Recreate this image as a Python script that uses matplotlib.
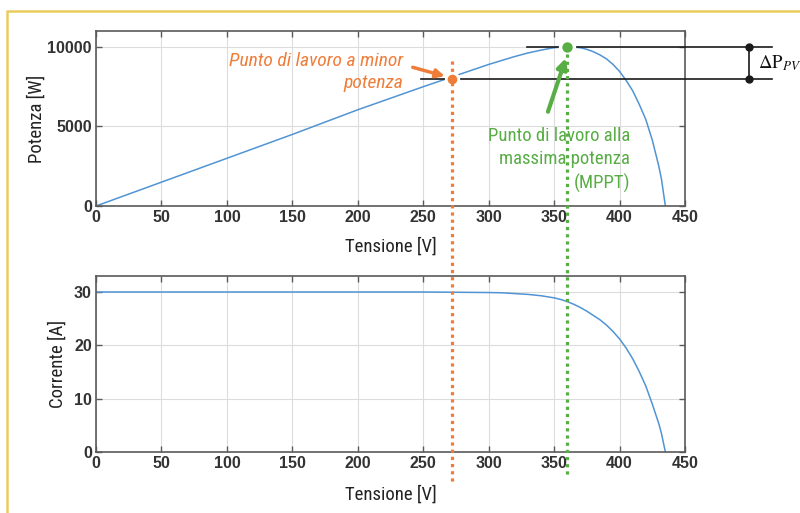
import matplotlib
matplotlib.use("Agg")
import matplotlib.pyplot as plt
from matplotlib import font_manager, transforms
from matplotlib.lines import Line2D

# ---------------- data ----------------
voltage_p = [0, 50, 100, 150, 200, 250, 300, 310, 320, 330, 340, 345, 350, 355,
             360, 365, 370, 375, 380, 385, 390, 395, 400, 405, 410, 415, 420,
             425, 430, 432, 435]
power = [0, 1500, 3000, 4500, 6050, 7500, 8900, 9150, 9400, 9620, 9800, 9880,
         9950, 9990, 10000, 9990, 9950, 9850, 9700, 9500, 9250, 8900, 8460,
         7900, 7250, 6400, 5450, 4150, 2500, 1700, 0]

voltage_i = [0, 50, 100, 150, 200, 250, 300, 310, 320, 330, 340, 345, 350, 355,
             360, 365, 370, 375, 380, 385, 390, 395, 400, 405, 410, 415, 420,
             425, 430, 432, 435]
current = [30.0, 30.0, 30.0, 30.0, 30.0, 30.0, 29.9, 29.85, 29.7, 29.55, 29.3,
           29.1, 28.9, 28.6, 28.2, 27.7, 27.1, 26.4, 25.6, 24.8, 23.8, 22.6,
           21.2, 19.5, 17.5, 15.1, 12.4, 9.0, 5.3, 3.5, 0.0]

x_ticks = [0, 50, 100, 150, 200, 250, 300, 350, 400, 450]
p_ticks = [0, 5000, 10000]
i_ticks = [0, 10, 20, 30]

v_mpp, p_mpp = 360, 10000      # maximum power point
v_low, p_low = 272, 8000       # lower power working point

label_low = "Punto di lavoro a minor\npotenza"
label_mpp = "Punto di lavoro alla\nmassima potenza\n(MPPT)"
label_dp = r"$\Delta\mathrm{P}_{PV}$"

# ---------------- style ----------------
names = {f.name for f in font_manager.fontManager.ttflist}
narrow = None
for cand in ["Liberation Sans Narrow", "Roboto Condensed", "Open Sans Condensed",
             "DejaVu Sans Condensed"]:
    if cand in names:
        narrow = cand
        break
if narrow is None:
    narrow = "DejaVu Sans"

BLUE = "#5094d4"
ORANGE = "#ef7d3a"
GREEN = "#58ad45"
TICKC = "#333333"
SPINE = "#5a5a5a"
GRID = "#dcdcdc"

fig = plt.figure(figsize=(8.0, 5.13), dpi=100)
ax1 = fig.add_axes([0.12, 0.5984, 0.73625, 0.3411])
ax2 = fig.add_axes([0.12, 0.1189, 0.73625, 0.3431])


def style(ax):
    ax.set_xlim(0, 450)
    ax.set_xticks(x_ticks)
    ax.grid(True, color=GRID, linewidth=0.8)
    ax.set_axisbelow(True)
    for s in ax.spines.values():
        s.set_color(SPINE)
        s.set_linewidth(1.2)
    ax.tick_params(direction="in", top=True, right=True, length=4, width=1,
                   color=SPINE, labelcolor=TICKC, pad=3)
    for lab in ax.get_xticklabels() + ax.get_yticklabels():
        lab.set_fontfamily("Liberation Sans")
        lab.set_fontsize(11.5)
        lab.set_fontweight("bold")


ax1.plot(voltage_p, power, color=BLUE, linewidth=1.1)
ax1.set_ylim(0, 11000)
ax1.set_yticks(p_ticks)
style(ax1)
ax1.set_xlabel("Tensione [V]", family=narrow, fontsize=13.5, color="#222222", labelpad=9)
ax1.set_ylabel("Potenza [W]", family=narrow, fontsize=13.5, color="#222222", labelpad=1)

ax2.plot(voltage_i, current, color=BLUE, linewidth=1.1)
ax2.set_ylim(0, 33)
ax2.set_yticks(i_ticks)
style(ax2)
ax2.set_xlabel("Tensione [V]", family=narrow, fontsize=13.5, color="#222222", labelpad=10)
ax2.set_ylabel("Corrente [A]", family=narrow, fontsize=13.5, color="#222222", labelpad=5)

# ---------------- annotations ----------------
# vertical dotted lines spanning both panels
blend = transforms.blended_transform_factory(ax1.transData, fig.transFigure)
fig.add_artist(Line2D([v_low, v_low], [1 - 61 / 513, 1 - 482 / 513], transform=blend,
                      color=ORANGE, linewidth=2.3, linestyle=(0, (1, 1.25)),
                      dash_capstyle="butt", zorder=5))
fig.add_artist(Line2D([v_mpp, v_mpp], [1 - 54 / 513, 1 - 478 / 513], transform=blend,
                      color=GREEN, linewidth=2.3, linestyle=(0, (1, 1.25)),
                      dash_capstyle="butt", zorder=5))

# horizontal reference lines
ax1.plot([329, 516.4], [p_mpp, p_mpp], color="#1a1a1a", linewidth=1.2,
         clip_on=False, zorder=6)
ax1.plot([248, 516.4], [p_low, p_low], color="#1a1a1a", linewidth=1.2,
         clip_on=False, zorder=6)
# bracket
ax1.plot([498.6, 498.6], [p_low, p_mpp], color="#1a1a1a", linewidth=1.2,
         marker="o", markersize=5, clip_on=False, zorder=7)
ax1.text(506.0, 8950, label_dp, fontsize=13.5, math_fontfamily="stix",
         ha="left", va="center", color="#111111", clip_on=False)

# working points
ax1.plot([v_low], [p_low], marker="o", markersize=9, color=ORANGE,
         markeredgecolor="white", markeredgewidth=2, clip_on=False, zorder=8)
ax1.plot([v_mpp], [p_mpp], marker="o", markersize=10, color=GREEN,
         markeredgecolor="white", markeredgewidth=2.5, clip_on=False, zorder=8)

# arrows
ax1.annotate("", xy=(266.5, 8160), xytext=(242, 8720),
             arrowprops=dict(arrowstyle="-|>,head_length=0.5,head_width=0.25",
                             color=ORANGE, linewidth=2.5, shrinkA=0, shrinkB=0),
             annotation_clip=False, zorder=9)
ax1.annotate("", xy=(359.0, 9300), xytext=(345.3, 5930),
             arrowprops=dict(arrowstyle="-|>,head_length=0.6,head_width=0.3",
                             color=GREEN, linewidth=3, shrinkA=0, shrinkB=0),
             annotation_clip=False, zorder=9)

# labels
ax1.text(234.5, 8430, label_low, family=narrow, style="italic", fontsize=14,
         color=ORANGE, ha="right", va="center", linespacing=1.3, zorder=9)
ax1.text(408, 2900, label_mpp, family=narrow, fontsize=13.5,
         color=GREEN, ha="right", va="center", linespacing=1.35, zorder=9)

# yellow frame (top and left edges)
fig.add_artist(Line2D([7 / 800, 7 / 800, 1.0], [0.0, 1 - 11 / 513, 1 - 11 / 513],
                      transform=fig.transFigure, color="#e9cd5c", linewidth=1.8))

fig.savefig("out.png", dpi=100)
